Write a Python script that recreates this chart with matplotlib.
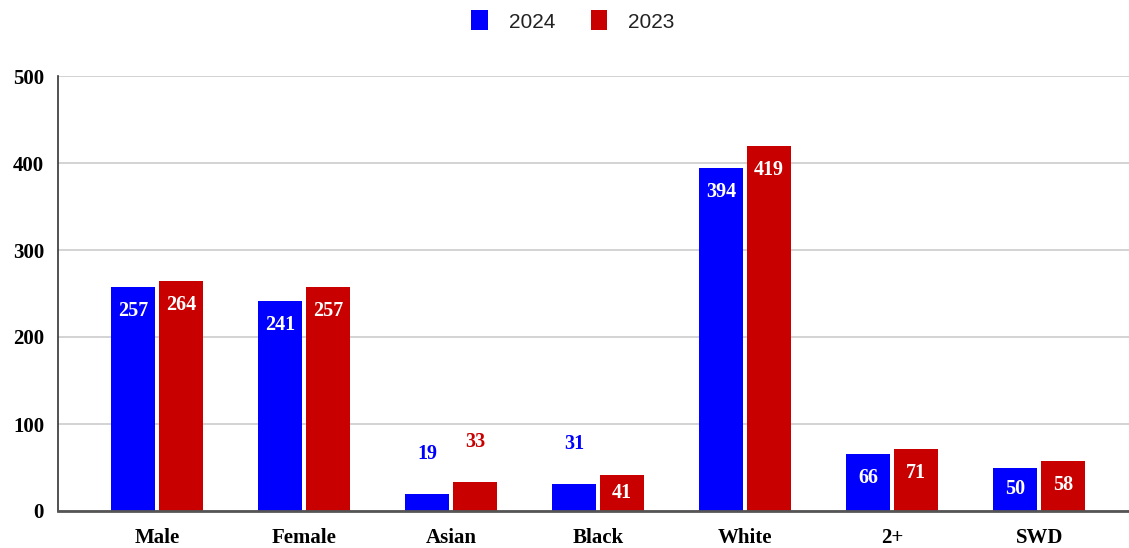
import numpy as np
import matplotlib.pyplot as plt

# Data
categories = ['Male', 'Female', 'Asian', 'Black', 'White', '2+', 'SWD']
values_2024 = [257, 241, 19, 31, 394, 66, 50]
values_2023 = [264, 257, 33, 41, 419, 71, 58]
series_names = ['2024', '2023']
colors = ['#0000ff', '#c80000']

W, H = 1129, 548
fig = plt.figure(figsize=(W / 100, H / 100), dpi=100)
ax = fig.add_axes([58 / W, (H - 511) / H, (W - 58) / W, (511 - 76) / H])

x = np.arange(len(categories))
bw = 0.30
off = 0.163
ax.set_xlim(-0.673, 6.61)
ax.set_ylim(0, 500)

serif = ['Liberation Serif', 'DejaVu Serif']
px_per_unit = (511 - 76) / 500.0
inside_off = 24 / px_per_unit   # label drop below bar top, in data units
above_off = 40 / px_per_unit    # label rise above short bars

for vals, shift, col, name in [(values_2024, -off, colors[0], series_names[0]),
                               (values_2023, off, colors[1], series_names[1])]:
    ax.bar(x + shift, vals, width=bw, color=col, label=name, zorder=3)
    for xi, v in zip(x + shift, vals):
        if v < 40:
            ax.text(xi, v + above_off, str(v), ha='center', va='center',
                    color=col, fontsize=14.5, fontweight='bold', family=serif, zorder=4)
        else:
            y = max(v - inside_off, v / 2)
            ax.text(xi, y, str(v), ha='center', va='center',
                    color='white', fontsize=14.5, fontweight='bold', family=serif, zorder=4)

ax.set_xticks(x)
ax.set_xticklabels(categories, fontsize=15, fontweight='bold', family=serif)
ax.set_yticks(range(0, 501, 100))
ax.set_yticklabels([str(v) for v in range(0, 501, 100)], fontsize=15,
                   fontweight='bold', family=serif)
ax.tick_params(axis='both', length=0)
ax.tick_params(axis='y', pad=10)
ax.tick_params(axis='x', pad=12)

ax.grid(axis='y', color='#cccccc', linewidth=1.2, zorder=0)
for s in ['top', 'right']:
    ax.spines[s].set_visible(False)
ax.spines['left'].set_color('#333333')
ax.spines['left'].set_linewidth(1.2)
ax.spines['bottom'].set_color('#555555')
ax.spines['bottom'].set_linewidth(2)
ax.spines['bottom'].set_zorder(5)

fig.legend(loc='center', bbox_to_anchor=(573 / W, 1 - 21 / H), ncol=2, frameon=False,
           prop={'family': 'Liberation Sans', 'size': 15}, handlelength=0.8,
           handleheight=1.1, columnspacing=1.7, handletextpad=1.0, labelcolor='#222222')

plt.savefig('out.png', dpi=100)
